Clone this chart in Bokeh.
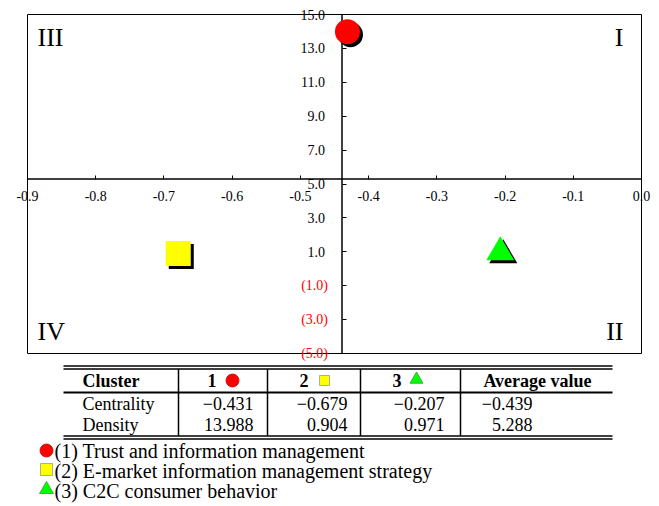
from bokeh.plotting import figure
from bokeh.models import Range1d, LinearAxis, FixedTicker
from bokeh.embed import file_html
from bokeh.resources import INLINE
from bokeh.core.properties import value

# ---------------- data ----------------
cluster_ids = ["1", "2", "3"]
cluster_names = ["(1) Trust and information management",
                 "(2) E-market information management strategy",
                 "(3) C2C consumer behavior"]
centrality = [-0.431, -0.679, -0.207]
density = [13.988, 0.904, 0.971]
avg_centrality = -0.439
avg_density = 5.288
colors = ["#FF0000", "#FFFF00", "#00FF00"]
marker_types = ["circle", "square", "triangle"]

x_ticks = [-0.9, -0.8, -0.7, -0.6, -0.5, -0.4, -0.3, -0.2, -0.1, 0.0]
x_tick_labels = ["-0.9", "-0.8", "-0.7", "-0.6", "-0.5", "-0.4", "-0.3", "-0.2", "-0.1", "0.0"]
y_ticks_pos = [15, 13, 11, 9, 7, 5, 3, 1]
y_tick_labels_pos = ["15.0", "13.0", "11.0", "9.0", "7.0", "5.0", "3.0", "1.0"]
y_ticks_neg = [-1, -3, -5]
y_tick_labels_neg = ["(1.0)", "(3.0)", "(5.0)"]
quadrant_labels = ["I", "II", "III", "IV"]
table_header = ["Cluster", "Average value"]
row_labels = ["Centrality", "Density"]

FONT = "Liberation Serif"
W, H = 656, 504
X0, X1 = -0.9, 0.0          # chart box range
Y0, Y1 = -5.0, 15.0
FW, FH = 614, 339           # chart box size in px
BL, BT = 27, 14             # chart box offset inside canvas (px)
kx = FW / (X1 - X0)
ky = FH / (Y1 - Y0)
xs = X0 - BL / kx
xe = xs + W / kx
ye = Y1 + BT / ky
ys = ye - H / ky


def PX(px):  # canvas x (px) -> data x
    return xs + px / kx


def PY(py):  # canvas y (px, downwards) -> data y
    return ye - py / ky


p = figure(width=W, height=H, x_range=Range1d(xs, xe), y_range=Range1d(ys, ye),
           x_axis_type=None, y_axis_type=None, toolbar_location=None,
           output_backend="svg", min_border=0)
p.outline_line_color = None
p.background_fill_color = "white"
p.border_fill_color = "white"

# chart box and crossing axis lines (at the average values)
p.quad(left=[X0], right=[X1], bottom=[Y0], top=[Y1], fill_color=None,
       line_color="black", line_width=1)
p.segment(x0=[X0, avg_centrality], y0=[avg_density, Y0], x1=[X1, avg_centrality],
          y1=[avg_density, Y1], line_color="black", line_width=1.5)

xaxis = LinearAxis(ticker=FixedTicker(ticks=x_ticks), fixed_location=avg_density)
xaxis.major_label_overrides = {t: l for t, l in zip(x_ticks, x_tick_labels)}
yaxis = LinearAxis(ticker=FixedTicker(ticks=y_ticks_pos), fixed_location=avg_centrality)
yaxis.major_label_overrides = {t: l for t, l in zip(y_ticks_pos, y_tick_labels_pos)}
yaxis2 = LinearAxis(ticker=FixedTicker(ticks=y_ticks_neg), fixed_location=avg_centrality)
yaxis2.major_label_overrides = {t: l for t, l in zip(y_ticks_neg, y_tick_labels_neg)}

for ax, col in ((xaxis, "black"), (yaxis, "black"), (yaxis2, "#FF0000")):
    ax.axis_line_color = None
    ax.major_tick_in = 4
    ax.major_tick_out = 0
    ax.major_tick_line_color = "black"
    ax.major_tick_line_width = 1
    ax.minor_tick_line_color = None
    ax.major_label_text_font = FONT
    ax.major_label_text_font_size = "14px"
    ax.major_label_text_color = col
xaxis.major_label_standoff = 12
yaxis.major_label_standoff = 17
yaxis2.major_label_standoff = 14

p.add_layout(xaxis, "below")
p.add_layout(yaxis, "left")
p.add_layout(yaxis2, "left")

# markers with a 3px black drop shadow
dx = 3 / kx
dy = 3 / ky
sizes = [25, 25, 28]
p.scatter(x=[c + dx for c in centrality], y=[d - dy for d in density], marker=marker_types,
          size=sizes, fill_color="black", line_color=None)
p.scatter(x=centrality, y=density, marker=marker_types, size=sizes, fill_color=colors,
          line_color=None)

# quadrant labels
p.text(x=[X1, X1, X0, X0], y=[Y1, Y0, Y1, Y0], text=quadrant_labels,
       x_offset=[-18, -18, 10, 10], y_offset=[23, -22, 23, -22],
       text_align=["right", "right", "left", "left"], text_baseline="middle",
       text_font=value(FONT), text_font_size="26px", text_color="black")

# ---------------- table ----------------
L, R = 63, 612
hy = [365.5, 368.5, 435.5, 438.5]
p.segment(x0=[PX(L)] * 4, y0=[PY(v) for v in hy], x1=[PX(R)] * 4, y1=[PY(v) for v in hy],
          line_color="black", line_width=1.5)
p.segment(x0=[PX(L)], y0=[PY(392)], x1=[PX(R)], y1=[PY(392)], line_color="black", line_width=2)
vx = [178, 267, 360, 460]
p.segment(x0=[PX(v) for v in vx], y0=[PY(368.5)] * 4, x1=[PX(v) for v in vx],
          y1=[PY(435.5)] * 4, line_color="black", line_width=1.5)

TS = "18px"
p.text(x=[PX(82), PX(537)], y=[PY(380)] * 2, text=table_header, text_align=["left", "center"],
       text_baseline="middle", text_font=value(FONT), text_font_style="bold", text_font_size=TS)
p.text(x=[PX(216), PX(308), PX(401)], y=[PY(380)] * 3, text=cluster_ids, text_align="right",
       text_baseline="middle", text_font=value(FONT), text_font_style="bold", text_font_size=TS)
p.scatter(x=[PX(232), PX(324), PX(416)], y=[PY(380), PY(380), PY(379)], marker=marker_types,
          size=[13, 10, 13], fill_color=colors, line_color=["#CC0000", "#999999", "#339933"],
          line_width=0.8)
p.text(x=[PX(82)] * 2, y=[PY(403), PY(424)], text=row_labels, text_align="left",
       text_baseline="middle", text_font=value(FONT), text_font_size=TS)


def fmt(v):
    return f"{v:.3f}".replace("-", "\u2212")


val_x = [PX(253), PX(347), PX(444), PX(532)]
cvals = [fmt(v) for v in centrality + [avg_centrality]]
dvals = [fmt(v) for v in density + [avg_density]]
p.text(x=val_x, y=[PY(403)] * 4, text=cvals, text_align="right", text_baseline="middle",
       text_font=value(FONT), text_font_size=TS)
p.text(x=val_x, y=[PY(424)] * 4, text=dvals, text_align="right", text_baseline="middle",
       text_font=value(FONT), text_font_size=TS)

# ---------------- legend ----------------
p.scatter(x=[PX(46)] * 3, y=[PY(450), PY(469), PY(489)], marker=marker_types, size=[13, 12, 14],
          fill_color=colors, line_color=["#CC0000", "#999999", "#339933"], line_width=0.8)
p.text(x=[PX(54)] * 3, y=[PY(450), PY(470), PY(490)], text=cluster_names, text_align="left",
       text_baseline="middle", text_font=value(FONT), text_font_size="20px", text_color="black")

open("out.html", "w").write(file_html(p, INLINE))
